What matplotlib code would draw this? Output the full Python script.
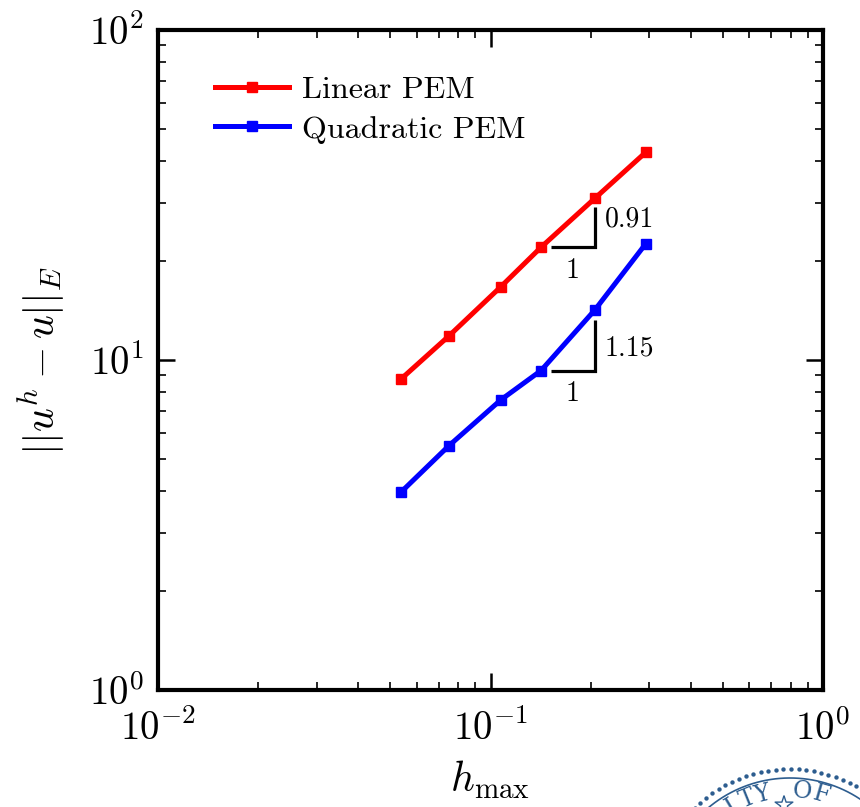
import numpy as np
import matplotlib
matplotlib.use("Agg")
import matplotlib.pyplot as plt
from matplotlib.ticker import LogLocator, NullFormatter

plt.rcParams["font.family"] = "serif"
plt.rcParams["font.serif"] = ["cmr10", "DejaVu Serif"]
plt.rcParams["mathtext.fontset"] = "cm"
plt.rcParams["axes.formatter.use_mathtext"] = True

# Mesh size and energy-norm error for both element orders
h_max = [0.0537, 0.0750, 0.1074, 0.1419, 0.206, 0.293]
err_linear = [8.74, 11.83, 16.67, 21.96, 30.9, 42.6]
err_quadratic = [3.97, 5.50, 7.57, 9.29, 14.18, 22.5]
series_labels = ["Linear PEM", "Quadratic PEM"]
rates = [0.91, 1.15]

fig = plt.figure(figsize=(8.6, 8.07), dpi=100)
ax = fig.add_axes([158 / 860, 1 - 690 / 807, 665 / 860, 660 / 807])

ax.plot(h_max, err_linear, color="#ff0000", lw=3.6, marker="s", ms=7.8,
        label=series_labels[0])
ax.plot(h_max, err_quadratic, color="#0000ff", lw=3.6, marker="s", ms=7.8,
        label=series_labels[1])

ax.set_xscale("log")
ax.set_yscale("log")
ax.set_xlim(1e-2, 1e0)
ax.set_ylim(1e0, 1e2)

ax.xaxis.set_major_locator(LogLocator(base=10, numticks=10))
ax.yaxis.set_major_locator(LogLocator(base=10, numticks=10))
ax.xaxis.set_minor_locator(LogLocator(base=10, subs=np.arange(2, 10), numticks=20))
ax.yaxis.set_minor_locator(LogLocator(base=10, subs=np.arange(2, 10), numticks=20))
ax.xaxis.set_minor_formatter(NullFormatter())
ax.yaxis.set_minor_formatter(NullFormatter())

ax.tick_params(which="both", direction="in", top=True, right=True)
ax.tick_params(which="major", length=12, width=1.8, labelsize=28)
ax.tick_params(axis="x", which="major", pad=14)
ax.tick_params(axis="y", which="major", pad=10)
ax.tick_params(which="minor", length=6, width=1.2)
for sp in ax.spines.values():
    sp.set_linewidth(3)

ax.set_xlabel(r"$h_{\max}$", fontsize=30, labelpad=8)
ax.set_ylabel(r"$||u^h - u||_E$", fontsize=30, labelpad=16)

# Slope triangles anchored on the fourth data point of each series
label_frac = [0.7, 0.45]
for err, rate, frac in zip([err_linear, err_quadratic], rates, label_frac):
    x0 = h_max[3] * 1.07
    x1 = h_max[4]
    y0 = err[3]
    y1 = y0 * (x1 / x0) ** rate
    ax.plot([x0, x1, x1], [y0, y0, y1], color="black", lw=2.3,
            solid_joinstyle="miter", solid_capstyle="butt")
    ax.text(x1 * 1.07, y0 * (y1 / y0) ** frac, f"{rate:.2f}", fontsize=20,
            ha="left", va="center")
    ax.text(np.sqrt(x0 * x1), y0 * 0.85, "1", fontsize=20,
            ha="center", va="center")

leg = ax.legend(loc="upper left", bbox_to_anchor=(0.067, 0.95), frameon=False,
                fontsize=23, handlelength=2.3, handletextpad=0.4,
                labelspacing=0.35, borderaxespad=0)

# University seal peeking in at the lower right corner
ov = fig.add_axes([0, 0, 1, 1], zorder=-1)
ov.set_xlim(0, 860)
ov.set_ylim(807, 0)
ov.axis("off")
seal = "#2d5d8f"
cx, cy = 790, 905
th = np.deg2rad(np.arange(-70, 71, 3.2))
ov.scatter(cx + 136 * np.sin(th), cy - 136 * np.cos(th), s=10, color=seal, lw=0)
th2 = np.deg2rad(np.linspace(-70, 70, 200))
ov.plot(cx + 127 * np.sin(th2), cy - 127 * np.cos(th2), color=seal, lw=1.2)
for ch, ang in zip("SITYOF", [-40, -31, -22, -14, 6, 16]):
    a = np.deg2rad(ang)
    ov.text(cx + 114 * np.sin(a), cy - 114 * np.cos(a), ch, color=seal,
            fontsize=17, rotation=-ang, ha="center", va="center",
            family="DejaVu Serif")
ov.scatter([cx - 6], [cy - 100], marker="*", s=180, facecolor="none",
           edgecolor=seal, lw=1)

fig.savefig("out.png", dpi=100)
